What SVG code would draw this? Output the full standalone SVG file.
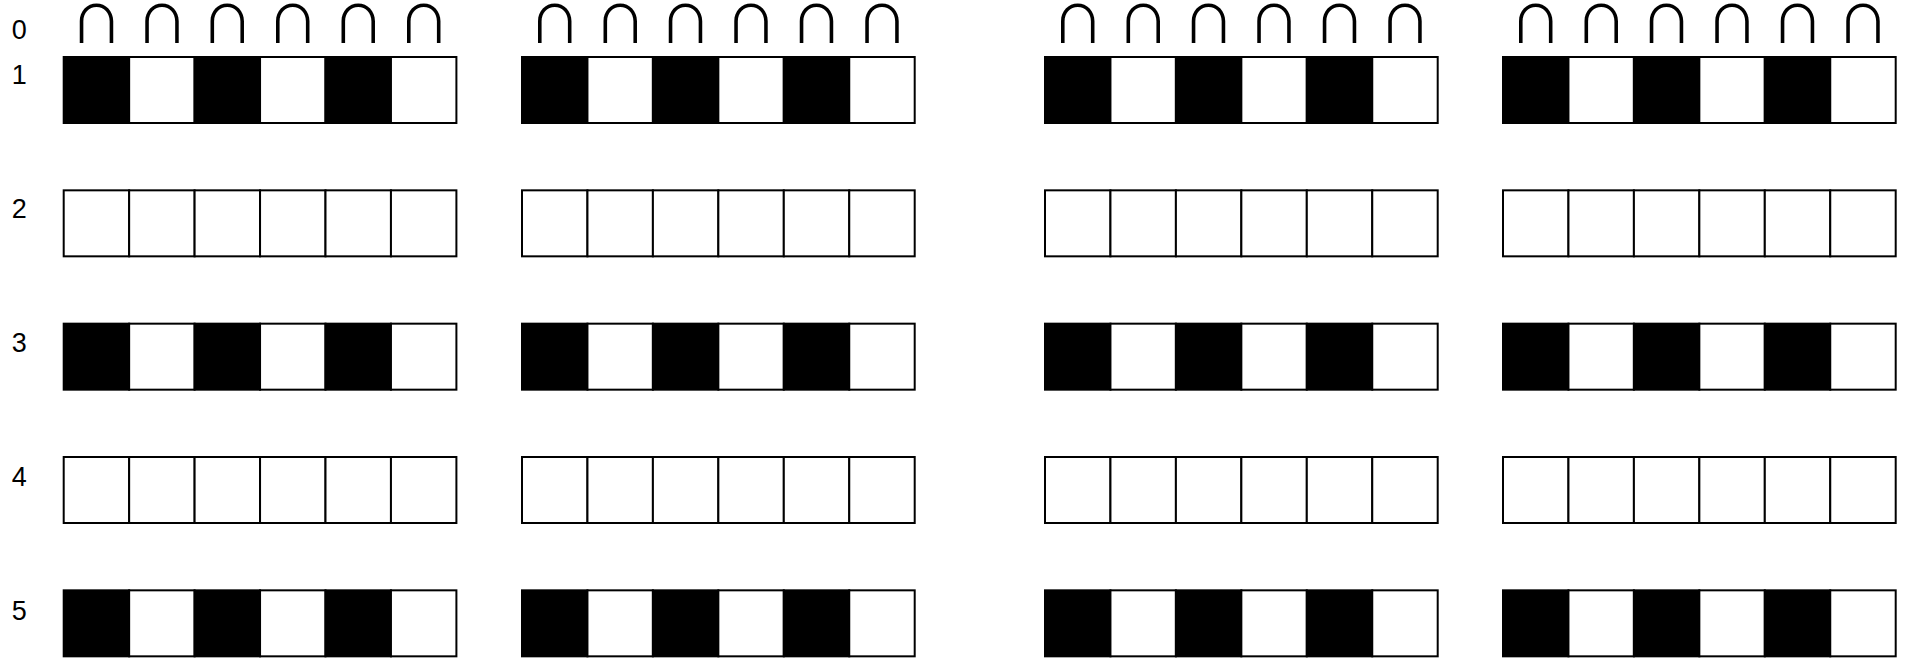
<svg xmlns="http://www.w3.org/2000/svg" width="1910" height="659" viewBox="0 0 1910 659">
<style>
.lbl{font-family:"Liberation Sans",Arial,sans-serif;font-size:27px;fill:#000}
.arc{font-family:"Noto Sans CJK SC","Noto Sans CJK JP",sans-serif;font-size:52px;fill:#000;text-anchor:middle}
.b{fill:#000;stroke:#000;stroke-width:2}
.w{fill:#fff;stroke:#000;stroke-width:2}
</style>
<defs>
<g id="alt">
<rect class="b" x="0" y="0" width="65.45" height="66"/>
<rect class="w" x="65.45" y="0" width="65.45" height="66"/>
<rect class="b" x="130.9" y="0" width="65.45" height="66"/>
<rect class="w" x="196.35" y="0" width="65.45" height="66"/>
<rect class="b" x="261.8" y="0" width="65.45" height="66"/>
<rect class="w" x="327.25" y="0" width="65.45" height="66"/>
</g>
<g id="emp">
<rect class="w" x="0" y="0" width="65.45" height="66"/>
<rect class="w" x="65.45" y="0" width="65.45" height="66"/>
<rect class="w" x="130.9" y="0" width="65.45" height="66"/>
<rect class="w" x="196.35" y="0" width="65.45" height="66"/>
<rect class="w" x="261.8" y="0" width="65.45" height="66"/>
<rect class="w" x="327.25" y="0" width="65.45" height="66"/>
</g>
</defs>
<g id="labels">
<text class="lbl" x="11.8" y="39.3">0</text>
<text class="lbl" x="11.8" y="84.3">1</text>
<text class="lbl" x="11.8" y="218.1">2</text>
<text class="lbl" x="11.8" y="351.9">3</text>
<text class="lbl" x="11.8" y="485.7">4</text>
<text class="lbl" x="11.8" y="619.5">5</text>
</g>
<g id="row0">
<g id="r0c1"><text class="arc" x="96.4" y="43.3">∩</text><text class="arc" x="161.9" y="43.3">∩</text><text class="arc" x="227.3" y="43.3">∩</text><text class="arc" x="292.8" y="43.3">∩</text><text class="arc" x="358.2" y="43.3">∩</text><text class="arc" x="423.7" y="43.3">∩</text></g>
<g id="r0c2"><text class="arc" x="554.7" y="43.3">∩</text><text class="arc" x="620.2" y="43.3">∩</text><text class="arc" x="685.6" y="43.3">∩</text><text class="arc" x="751.1" y="43.3">∩</text><text class="arc" x="816.5" y="43.3">∩</text><text class="arc" x="882" y="43.3">∩</text></g>
<g id="r0c3"><text class="arc" x="1077.7" y="43.3">∩</text><text class="arc" x="1143.2" y="43.3">∩</text><text class="arc" x="1208.6" y="43.3">∩</text><text class="arc" x="1274.1" y="43.3">∩</text><text class="arc" x="1339.5" y="43.3">∩</text><text class="arc" x="1405" y="43.3">∩</text></g>
<g id="r0c4"><text class="arc" x="1535.7" y="43.3">∩</text><text class="arc" x="1601.2" y="43.3">∩</text><text class="arc" x="1666.6" y="43.3">∩</text><text class="arc" x="1732.1" y="43.3">∩</text><text class="arc" x="1797.5" y="43.3">∩</text><text class="arc" x="1863" y="43.3">∩</text></g>
</g>
<g id="row1">
<g id="r1c1"><use href="#alt" x="63.7" y="57"/></g>
<g id="r1c2"><use href="#alt" x="522" y="57"/></g>
<g id="r1c3"><use href="#alt" x="1045" y="57"/></g>
<g id="r1c4"><use href="#alt" x="1503" y="57"/></g>
</g>
<g id="row2">
<g id="r2c1"><use href="#emp" x="63.7" y="190.33"/></g>
<g id="r2c2"><use href="#emp" x="522" y="190.33"/></g>
<g id="r2c3"><use href="#emp" x="1045" y="190.33"/></g>
<g id="r2c4"><use href="#emp" x="1503" y="190.33"/></g>
</g>
<g id="row3">
<g id="r3c1"><use href="#alt" x="63.7" y="323.67"/></g>
<g id="r3c2"><use href="#alt" x="522" y="323.67"/></g>
<g id="r3c3"><use href="#alt" x="1045" y="323.67"/></g>
<g id="r3c4"><use href="#alt" x="1503" y="323.67"/></g>
</g>
<g id="row4">
<g id="r4c1"><use href="#emp" x="63.7" y="457"/></g>
<g id="r4c2"><use href="#emp" x="522" y="457"/></g>
<g id="r4c3"><use href="#emp" x="1045" y="457"/></g>
<g id="r4c4"><use href="#emp" x="1503" y="457"/></g>
</g>
<g id="row5">
<g id="r5c1"><use href="#alt" x="63.7" y="590.33"/></g>
<g id="r5c2"><use href="#alt" x="522" y="590.33"/></g>
<g id="r5c3"><use href="#alt" x="1045" y="590.33"/></g>
<g id="r5c4"><use href="#alt" x="1503" y="590.33"/></g>
</g>
<g id="connectors"/>
</svg>
